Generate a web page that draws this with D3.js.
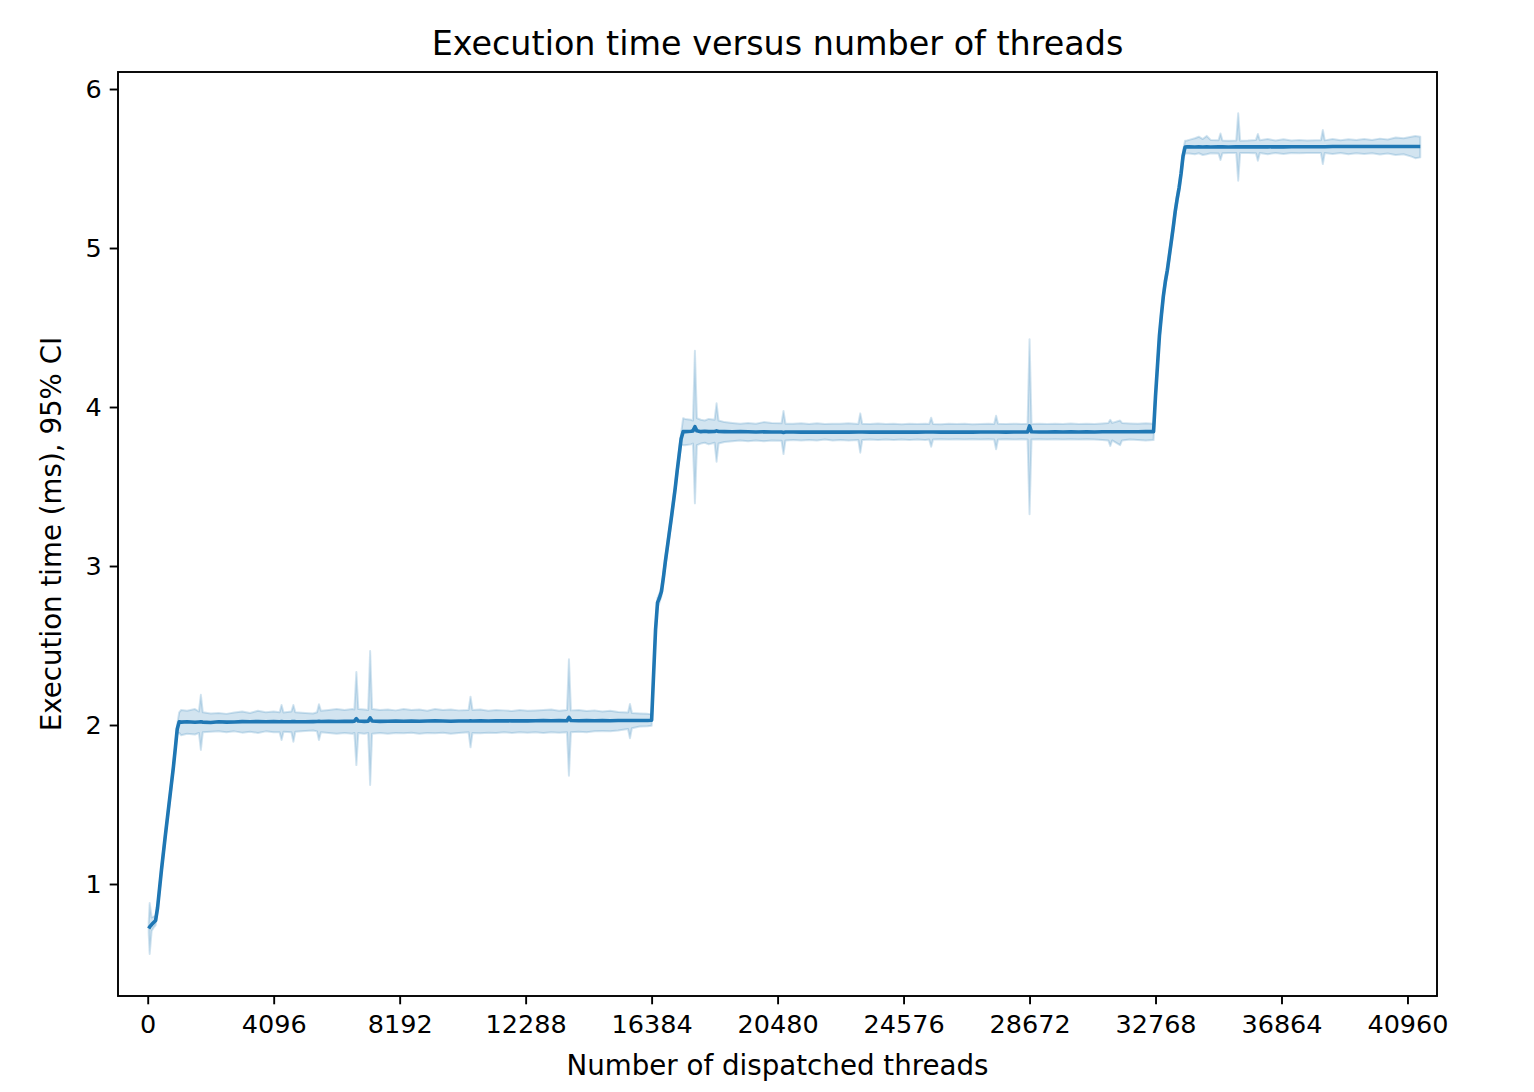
<!DOCTYPE html>
<html><head><meta charset="utf-8">
<script src="https://cdn.jsdelivr.net/npm/d3@7"></script>
<style>
body{margin:0;background:#fff}
svg{display:block}
text{font-family:"DejaVu Sans",sans-serif;fill:#000}
</style>
</head><body>
<svg id="chart" width="1534" height="1092"></svg>
<script>
// ---- data ----
const threads = [
  32,64,128,192,256,320,384,448,512,576,640,704,768,832,896,960,1024,
  1088,1280,1536,1664,1728,1792,2048,2304,2560,2816,3072,3328,3584,3840,4096,4288,4352,4416,4672,4736,4800,
  5120,5376,5504,5568,5632,5888,6144,6400,6656,6720,6784,6848,7040,7168,7232,7296,7552,7808,8064,8320,8576,
  8832,9088,9344,9600,9856,10112,10432,10496,10560,10816,11072,11328,11584,11840,12096,12352,12608,12864,
  13120,13376,13632,13696,13760,14016,14272,14528,14784,15040,15296,15616,15680,15744,16000,16256,16384,
  16448,16512,16576,16640,16704,16768,16832,16896,16960,17024,17088,17152,17216,17280,17344,17408,
  17472,17664,17728,17792,17856,17984,18112,18240,18432,18496,18560,18752,19008,19264,19520,19776,20032,
  20288,20608,20672,20736,20992,21248,21504,21760,22016,22272,22528,22784,23104,23168,23232,23488,23744,
  24000,24256,24512,24768,25024,25280,25408,25472,25536,25792,26048,26304,26560,26816,27072,27328,27520,
  27584,27648,27904,28160,28416,28608,28672,28736,28992,29248,29504,29760,30016,30272,30528,30784,31040,
  31232,31296,31360,31616,31680,31936,32192,32448,32704,
  32768,32832,32896,32960,33024,33088,33152,33216,33280,33344,33408,33472,33536,33600,33664,33728,33792,
  33856,34048,34176,34304,34432,34560,34816,34880,34944,35136,35392,35456,35520,35776,36032,36096,36160,
  36416,36672,36928,37184,37440,37696,37952,38144,38208,38272,38528,38784,39040,39296,39552,39808,40064,
  40320,40576,40832,41088,41216,41376
];
const meanMs = [
  0.720,0.730,0.745,0.758,0.770,0.850,0.970,1.090,1.200,1.310,1.415,1.520,1.625,1.730,1.850,1.975,2.020,
  2.018,2.020,2.017,2.019,2.020,2.018,2.016,2.020,2.018,2.019,2.021,2.020,2.022,2.020,2.021,2.020,2.022,2.020,2.021,2.022,2.021,
  2.020,2.021,2.022,2.023,2.022,2.023,2.022,2.024,2.023,2.024,2.040,2.025,2.023,2.024,2.045,2.025,2.023,2.024,2.025,2.024,2.025,
  2.024,2.025,2.026,2.025,2.024,2.025,2.025,2.026,2.025,2.026,2.025,2.026,2.027,2.026,2.027,2.026,2.027,2.028,
  2.027,2.028,2.027,2.048,2.028,2.027,2.028,2.027,2.028,2.027,2.028,2.028,2.028,2.028,2.028,2.028,2.030,
  2.317,2.600,2.770,2.800,2.840,2.930,3.030,3.120,3.210,3.300,3.395,3.490,3.600,3.700,3.800,3.845,
  3.845,3.848,3.850,3.876,3.850,3.845,3.848,3.845,3.846,3.850,3.846,3.845,3.844,3.845,3.844,3.843,3.844,
  3.843,3.843,3.840,3.843,3.843,3.842,3.843,3.842,3.843,3.842,3.843,3.842,3.843,3.843,3.843,3.842,3.843,
  3.842,3.843,3.842,3.843,3.842,3.843,3.843,3.843,3.843,3.842,3.843,3.842,3.843,3.842,3.843,3.843,3.843,
  3.843,3.843,3.842,3.843,3.843,3.843,3.881,3.844,3.843,3.843,3.844,3.843,3.844,3.843,3.844,3.843,3.844,
  3.844,3.844,3.844,3.844,3.844,3.844,3.844,3.845,3.845,
  4.070,4.260,4.450,4.580,4.700,4.790,4.860,4.950,5.040,5.130,5.230,5.310,5.380,5.470,5.580,5.635,5.636,
  5.636,5.635,5.636,5.635,5.636,5.635,5.636,5.636,5.636,5.635,5.636,5.636,5.636,5.636,5.636,5.637,5.636,
  5.636,5.637,5.636,5.637,5.637,5.637,5.637,5.637,5.637,5.637,5.638,5.638,5.638,5.638,5.638,5.638,5.638,
  5.638,5.638,5.638,5.638,5.638,5.638
];
const ciLow = [
  0.690,0.560,0.705,0.725,0.740,0.825,0.945,1.065,1.175,1.285,1.390,1.495,1.600,1.705,1.825,1.945,1.950,
  1.935,1.945,1.940,1.950,1.843,1.955,1.958,1.960,1.955,1.960,1.952,1.958,1.950,1.960,1.955,1.955,1.906,1.958,1.955,1.895,1.958,
  1.962,1.965,1.960,1.906,1.955,1.950,1.945,1.950,1.945,1.950,1.748,1.950,1.945,1.950,1.623,1.945,1.950,1.945,1.950,1.948,1.952,
  1.945,1.950,1.948,1.952,1.945,1.950,1.955,1.860,1.950,1.948,1.952,1.950,1.955,1.950,1.955,1.952,1.955,1.950,
  1.955,1.952,1.955,1.681,1.955,1.958,1.955,1.960,1.962,1.960,1.965,1.975,1.916,1.980,1.990,1.992,1.995,
  2.287,2.570,2.740,2.770,2.810,2.900,3.000,3.090,3.180,3.270,3.365,3.460,3.570,3.665,3.765,3.760,
  3.760,3.765,3.770,3.394,3.760,3.770,3.775,3.765,3.775,3.656,3.770,3.780,3.785,3.790,3.785,3.790,3.785,
  3.790,3.788,3.704,3.790,3.792,3.790,3.793,3.790,3.795,3.790,3.793,3.790,3.793,3.713,3.792,3.795,3.792,
  3.795,3.793,3.795,3.793,3.795,3.793,3.795,3.750,3.795,3.797,3.795,3.797,3.795,3.797,3.795,3.797,3.795,
  3.734,3.795,3.797,3.795,3.797,3.795,3.325,3.795,3.797,3.795,3.797,3.795,3.797,3.795,3.797,3.795,3.792,
  3.790,3.755,3.790,3.760,3.790,3.795,3.793,3.790,3.792,
  4.040,4.230,4.420,4.550,4.670,4.760,4.830,4.920,5.010,5.100,5.200,5.280,5.350,5.440,5.550,5.595,5.595,
  5.595,5.590,5.596,5.585,5.590,5.596,5.594,5.553,5.596,5.598,5.598,5.423,5.597,5.598,5.596,5.549,5.598,
  5.590,5.598,5.592,5.598,5.596,5.598,5.598,5.597,5.528,5.598,5.592,5.597,5.590,5.596,5.592,5.596,5.588,
  5.594,5.585,5.590,5.575,5.565,5.570
];
const ciHigh = [
  0.760,0.880,0.790,0.795,0.800,0.875,0.995,1.115,1.225,1.335,1.440,1.545,1.650,1.755,1.875,2.005,2.080,
  2.095,2.090,2.100,2.085,2.190,2.080,2.072,2.075,2.070,2.078,2.085,2.075,2.090,2.080,2.085,2.080,2.126,2.078,2.085,2.126,2.080,
  2.075,2.072,2.080,2.130,2.090,2.095,2.100,2.095,2.100,2.098,2.333,2.100,2.098,2.095,2.465,2.100,2.095,2.098,2.092,2.100,2.095,
  2.098,2.090,2.100,2.095,2.098,2.092,2.095,2.178,2.095,2.098,2.090,2.095,2.092,2.088,2.095,2.090,2.092,2.095,
  2.098,2.090,2.095,2.413,2.092,2.095,2.088,2.092,2.085,2.090,2.082,2.078,2.132,2.075,2.072,2.070,2.068,
  2.347,2.630,2.800,2.830,2.870,2.960,3.060,3.150,3.240,3.330,3.425,3.520,3.630,3.735,3.835,3.930,
  3.925,3.920,3.915,4.354,3.930,3.920,3.915,3.925,3.920,4.023,3.915,3.905,3.900,3.895,3.900,3.895,3.905,
  3.900,3.898,3.975,3.895,3.895,3.898,3.893,3.898,3.893,3.895,3.895,3.898,3.893,3.960,3.895,3.893,3.897,
  3.893,3.895,3.892,3.895,3.893,3.895,3.893,3.933,3.893,3.892,3.895,3.893,3.895,3.892,3.893,3.895,3.893,
  3.945,3.895,3.893,3.895,3.893,3.895,4.426,3.893,3.895,3.893,3.895,3.893,3.896,3.893,3.895,3.893,3.897,
  3.900,3.920,3.900,3.915,3.900,3.897,3.895,3.898,3.895,
  4.100,4.290,4.480,4.610,4.730,4.820,4.890,4.980,5.070,5.160,5.260,5.340,5.410,5.500,5.610,5.675,5.676,
  5.680,5.690,5.700,5.685,5.705,5.680,5.678,5.720,5.676,5.675,5.676,5.847,5.675,5.676,5.680,5.717,5.678,
  5.685,5.676,5.684,5.676,5.680,5.676,5.677,5.678,5.742,5.677,5.685,5.678,5.684,5.680,5.686,5.680,5.688,
  5.682,5.695,5.690,5.700,5.705,5.700
];
const xTickValues = [0,4096,8192,12288,16384,20480,24576,28672,32768,36864,40960];
const yTickValues = [1,2,3,4,5,6];
const titleText = "Execution time versus number of threads";
const xLabelText = "Number of dispatched threads";
const yLabelText = "Execution time (ms), 95% CI";

// ---- layout ----
const plot = {left:118, top:72, right:1437, bottom:996};
const color = "#1f77b4";

const svg = d3.select("#chart");
const x = d3.scaleLinear().domain([-966, 41920]).range([plot.left, plot.right]);
const y = d3.scaleLinear().domain([0.2956, 6.107]).range([plot.bottom, plot.top]);

const rows = threads.map((t,i)=>({t, m:meanMs[i], lo:ciLow[i], hi:ciHigh[i]}));

const area = d3.area().x(d=>x(d.t)).y0(d=>y(d.lo)).y1(d=>y(d.hi));
svg.append("path").datum(rows).attr("d", area)
  .attr("fill", color).attr("fill-opacity", 0.2)
  .attr("stroke", color).attr("stroke-opacity", 0.2).attr("stroke-width", 2).attr("stroke-linejoin","round");

const line = d3.line().x(d=>x(d.t)).y(d=>y(d.m));
svg.append("path").datum(rows).attr("d", line)
  .attr("fill","none").attr("stroke", color).attr("stroke-width", 3.6)
  .attr("stroke-linejoin","round").attr("stroke-linecap","butt");

// frame
svg.append("rect").attr("x", plot.left).attr("y", plot.top)
  .attr("width", plot.right-plot.left).attr("height", plot.bottom-plot.top)
  .attr("fill","none").attr("stroke","#000").attr("stroke-width",1.9);

// axes
const fs = 25.5;
const xAxis = d3.axisBottom(x).tickValues(xTickValues).tickSize(8.3).tickPadding(11).tickFormat(d3.format("d"));
const gx = svg.append("g").attr("transform",`translate(0,${plot.bottom})`).call(xAxis);
const yAxis = d3.axisLeft(y).tickValues(yTickValues).tickSize(8.3).tickPadding(8).tickFormat(d3.format("d"));
const gy = svg.append("g").attr("transform",`translate(${plot.left},0)`).call(yAxis);
[gx,gy].forEach(g=>{
  g.select(".domain").remove();
  g.selectAll(".tick line").attr("stroke","#000").attr("stroke-width",1.9);
  g.selectAll(".tick text").attr("font-family","DejaVu Sans").attr("font-size",fs).attr("fill","#000");
});

svg.append("text").attr("x",(plot.left+plot.right)/2).attr("y",55)
  .attr("text-anchor","middle").attr("font-size",33.4).text(titleText);
svg.append("text").attr("x",(plot.left+plot.right)/2).attr("y",1075)
  .attr("text-anchor","middle").attr("font-size",27.7).text(xLabelText);
svg.append("text").attr("transform",`translate(61,${(plot.top+plot.bottom)/2}) rotate(-90)`)
  .attr("text-anchor","middle").attr("font-size",27.7).text(yLabelText);
</script>
</body></html>
